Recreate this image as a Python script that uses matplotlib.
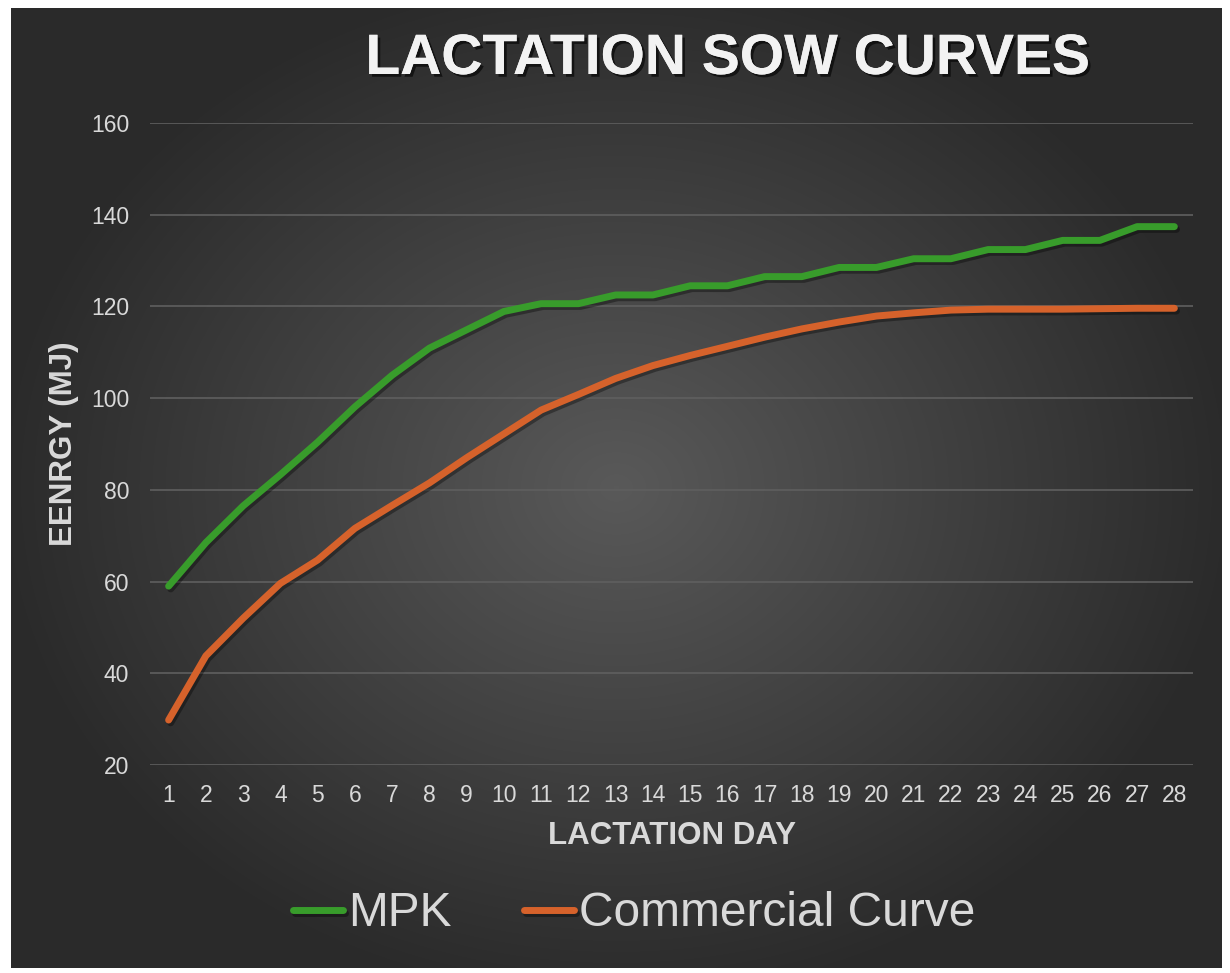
import numpy as np
import matplotlib
matplotlib.use("Agg")
import matplotlib.pyplot as plt
import matplotlib.patheffects as pe

# ── DATA ──────────────────────────────────────────────────────────────────────
days = list(range(1, 29))
mpk = [59, 68.5, 76.5, 83.3, 90.4, 98.1, 105, 110.9, 114.9, 118.9,
       120.6, 120.6, 122.5, 122.5, 124.5, 124.5, 126.5, 126.5, 128.5, 128.5,
       130.4, 130.4, 132.4, 132.4, 134.4, 134.4, 137.4, 137.4]
commercial = [29.8, 43.8, 52, 59.6, 64.7, 71.6, 76.6, 81.5, 87, 92.2,
              97.4, 100.8, 104.3, 107.1, 109.3, 111.3, 113.3, 115.1, 116.6, 117.9,
              118.6, 119.2, 119.4, 119.4, 119.4, 119.5, 119.6, 119.6]
y_ticks = [20, 40, 60, 80, 100, 120, 140, 160]

GREEN = "#389c2b"
ORANGE = "#d6622b"
TEXT = "#d9d9d9"
FONT = "Liberation Sans"

fig = plt.figure(figsize=(12.3, 9.73), dpi=100)
fig.patch.set_facecolor("white")

# ── BACKGROUND: radial gradient panel ────────────────────────────────────────
bg = fig.add_axes([11 / 1230, 5 / 973, 1211 / 1230, 960 / 973])
gx, gy = np.meshgrid(np.linspace(-1, 1, 400), np.linspace(-1, 1, 400))
r = np.sqrt((gx * 1.0) ** 2 + (gy * 0.95) ** 2)
shade = np.clip(0.35 - 0.18 * r, 0.165, 0.35)
bg.imshow(np.dstack([shade, shade, shade]), aspect="auto", extent=[0, 1, 0, 1],
          interpolation="bilinear")
bg.set_axis_off()

# ── MAIN PLOT ────────────────────────────────────────────────────────────────
ax = fig.add_axes([150 / 1230, 1 - 765 / 973, 1043 / 1230, 642 / 973])
ax.set_facecolor("none")

shadow = [pe.SimpleLineShadow(offset=(1.5, -2), shadow_color="black", alpha=0.35),
          pe.Normal()]
ax.plot(days, mpk, color=GREEN, lw=5, solid_capstyle="round",
        solid_joinstyle="round", label="MPK", path_effects=shadow, zorder=3)
ax.plot(days, commercial, color=ORANGE, lw=5, solid_capstyle="round",
        solid_joinstyle="round", label="Commercial Curve", path_effects=shadow, zorder=3)

ax.set_xlim(0.5, 28.5)
ax.set_ylim(20, 160)
ax.set_xticks(days)
ax.set_yticks(y_ticks)
ax.grid(True, axis="y", color="#5f5f5f", lw=1.2)
ax.set_axisbelow(True)
for s in ax.spines.values():
    s.set_visible(False)
ax.tick_params(length=0, colors=TEXT, labelsize=16.5)
ax.tick_params(axis="y", pad=15)
ax.tick_params(axis="x", pad=14)
for lab in ax.get_xticklabels() + ax.get_yticklabels():
    lab.set_fontfamily(FONT)

ax.set_xlabel("LACTATION DAY", color=TEXT, fontsize=22.5, fontweight="bold",
              fontfamily=FONT, labelpad=10)
ax.set_ylabel("EENRGY (MJ)", color=TEXT, fontsize=22.5, fontweight="bold",
              fontfamily=FONT)
ax.yaxis.set_label_coords(-0.068, 0.50)

fig.text(728 / 1230, 1 - 59 / 973, "LACTATION SOW CURVES", ha="center", va="center",
         color="#f2f2f2", fontsize=41, fontweight="bold", fontfamily=FONT,
         path_effects=[pe.withSimplePatchShadow(offset=(2, -2), shadow_rgbFace="black",
                                                alpha=0.6), pe.Normal()])

leg = fig.legend(loc="center", bbox_to_anchor=(634 / 1230, 1 - 914 / 973), ncol=2,
                 frameon=False, handlelength=1.05, handletextpad=0.1,
                 columnspacing=1.5, prop={"family": FONT, "size": 34.5})
for t in leg.get_texts():
    t.set_color(TEXT)
for h in leg.get_lines():
    h.set_linewidth(5)

fig.savefig("out.png", dpi=100)
